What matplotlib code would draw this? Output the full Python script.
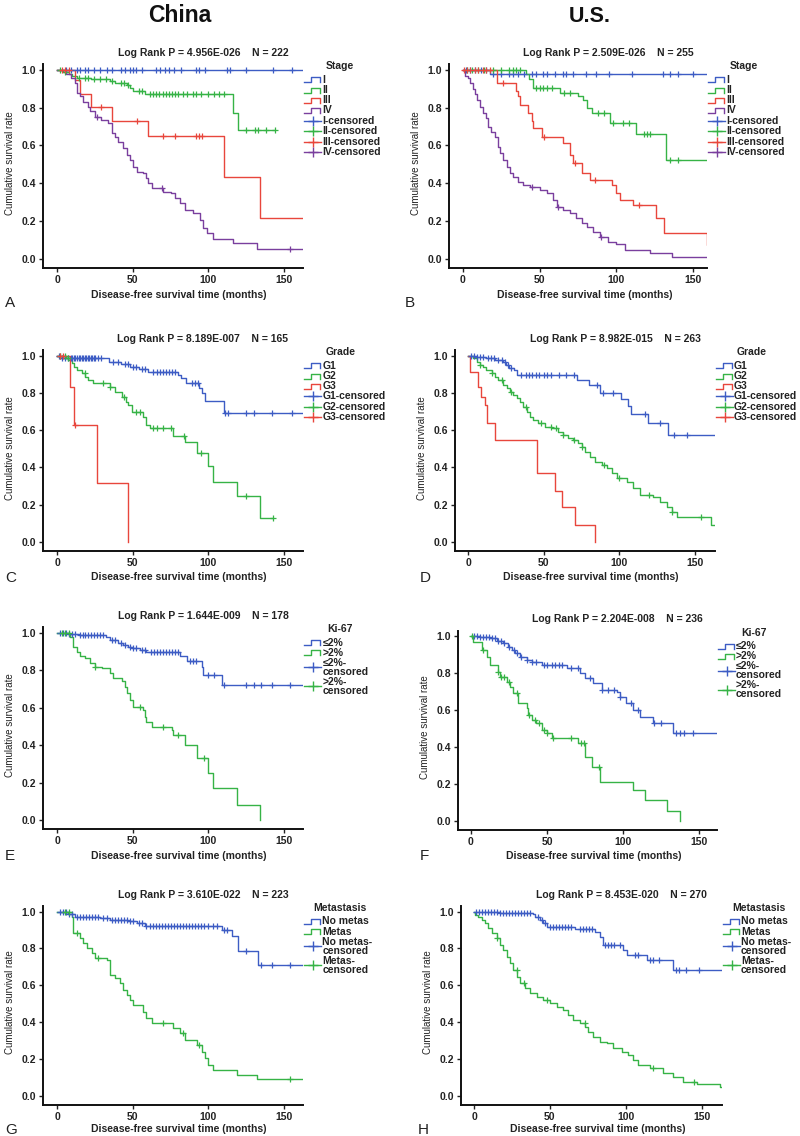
import matplotlib
matplotlib.use("Agg")
import matplotlib.pyplot as plt
from matplotlib.lines import Line2D
import numpy as np

plt.rcParams['font.family'] = ['Liberation Sans', 'DejaVu Sans']

W, H = 800, 1136
BLUE, GREEN, RED, PURPLE = '#3d5cc4', '#36b346', '#e8463c', '#7a3f9e'

# ---------------- data (time in months, survival, censor times) ----------------
A_I_t = [0]; A_I_s = [1.0]; A_I_end = 163
A_I_c = [6,9,13,15,18,20,24,28,33,36,42,45,48,50,52,56,65,68,71,74,77,82,92,94,98,112,114,125,143,155]
A_II_t = [0,4,8,10,13,22,35,38,46,48,50,58,116,119.5]
A_II_s = [1.0,0.99,0.98,0.97,0.96,0.95,0.94,0.93,0.92,0.905,0.89,0.87,0.77,0.68]
A_II_end = 144
A_II_c = [2,5,14,18,20,24,28,32,36,42,44,47,54,56,61,63,65,67,70,72,74,76,78,80,83,86,90,92,95,100,104,107,110,125,131,133,138,144]
A_III_t = [0,11.5,15,22,36,60,110,134]
A_III_s = [1.0,0.945,0.87,0.805,0.73,0.65,0.435,0.215]
A_III_end = 163
A_III_c = [3,5,8,29,53,70,78,92,94,96]
A_IV_t = [0,6,9,11.5,12.8,15,17,20,21.6,25,29,33.8,36,38,40,43.7,46,48,50,52.5,57,59,60,62.4,70,75,78,81,84.5,90,94.4,96.6,98.8,103,116,132]
A_IV_s = [1.0,0.98,0.955,0.93,0.876,0.86,0.83,0.805,0.78,0.753,0.735,0.717,0.664,0.647,0.62,0.585,0.55,0.523,0.488,0.461,0.452,0.426,0.40,0.373,0.355,0.346,0.32,0.293,0.258,0.24,0.205,0.161,0.134,0.102,0.081,0.053]
A_IV_end = 163
A_IV_c = [26,69,154]

B_I_t = [0,18]; B_I_s = [1.0,0.98]; B_I_end = 160
B_I_c = [2,5,8,12,15,20,25,30,33,36,40,45,48,52,55,60,65,67,72,80,87,95,110,130,135,140,150]
B_II_t = [0,41,43,46,63,75,78,81,84,96,113,132]
B_II_s = [1.0,0.98,0.95,0.905,0.88,0.86,0.84,0.80,0.77,0.72,0.66,0.525]
B_II_end = 160
B_II_c = [3,6,10,14,20,25,30,33,35,37,48,50,52,55,58,66,70,88,92,98,104,108,118,120,122,135,140]
B_III_t = [0,22,35,36.2,37.3,42.7,45,46,51.4,65.5,69.8,72,77.4,82.8,97,100,102,111,126,131,159]
B_III_s = [1.0,0.93,0.89,0.86,0.815,0.77,0.727,0.69,0.647,0.611,0.55,0.505,0.452,0.417,0.39,0.346,0.31,0.284,0.214,0.137,0.072]
B_III_end = 160
B_III_c = [1,3,5,8,10,13,15,18,26,53,73,86,115]
B_IV_t = [0,1.5,3.7,4.8,7,8,9.5,11.3,13.4,15.2,16.7,18.2,21,23.2,24.3,26.4,28.6,30.8,33,36.2,39.5,43.8,50.3,54.6,59,61.1,65.5,69.8,74,77.4,80.6,85,89.3,94.7,100,105.6,121.8,136]
B_IV_s = [1.0,0.97,0.956,0.929,0.90,0.87,0.84,0.806,0.77,0.744,0.70,0.673,0.647,0.594,0.558,0.523,0.488,0.452,0.435,0.408,0.39,0.382,0.364,0.346,0.31,0.276,0.258,0.24,0.214,0.19,0.17,0.143,0.117,0.09,0.08,0.046,0.028,0.011]
B_IV_end = 160
B_IV_c = [45,62,90]

C_G1_t = [0,2,34,42,48,54,60,80,82,85,94,96,98,110]
C_G1_s = [1.0,0.99,0.97,0.955,0.94,0.93,0.915,0.895,0.88,0.855,0.825,0.80,0.76,0.695]
C_G1_end = 163
C_G1_c = [1,3,5,7,9,10,11,12,13,14,15,16,17,18,19,20,21,22,23,24,25,27,29,37,40,45,47,50,52,56,58,63,66,68,70,72,74,76,78,89,91,93,111,113,125,130,142,155]
C_G2_t = [0,6,7.3,9.5,11,13.2,16,18.3,20.5,23.8,34.9,38.2,42.6,45.4,47,49.2,57,59,61.3,76.8,84.5,92.2,100,103,118.7,134]
C_G2_s = [1.0,0.99,0.978,0.96,0.943,0.925,0.907,0.888,0.87,0.856,0.835,0.808,0.78,0.754,0.736,0.70,0.67,0.63,0.61,0.57,0.536,0.48,0.41,0.32,0.245,0.125]
C_G2_end = 143
C_G2_c = [2,5,7,18,30,35,44,52,55,63,66,70,75,84,95,125,143]
C_G3_t = [0,8.4,11,26,47]
C_G3_s = [1.0,0.835,0.628,0.314,0.0]
C_G3_end = 47
C_G3_c = [2,4,12]

D_G1_t = [0,5,12,18,23,25,27,30,32,72,80,87,101,106,108,119,132]
D_G1_s = [1.0,0.993,0.987,0.978,0.969,0.952,0.934,0.925,0.895,0.87,0.845,0.80,0.77,0.73,0.69,0.64,0.575]
D_G1_end = 163
D_G1_c = [2,4,6,8,10,13,15,17,20,22,24,26,28,35,38,40,42,45,47,50,52,55,60,65,70,85,89,96,117,127,136,145]
D_G2_t = [0,3.3,5.5,7.7,10,12,15.5,17.7,19.9,23.2,25.4,27.6,29.8,32,34.2,36.4,38.6,40.8,43,46.4,50.8,55.2,59.6,62.9,66.2,69.5,72.8,75,77.3,80.6,83.9,88.3,91.6,94.9,98.2,104.9,109.3,113.7,122.5,127,131.3,134.7,138,161]
D_G2_s = [1.0,0.987,0.969,0.952,0.943,0.925,0.907,0.889,0.871,0.844,0.826,0.808,0.79,0.772,0.754,0.727,0.70,0.673,0.655,0.637,0.619,0.61,0.592,0.575,0.557,0.548,0.53,0.512,0.485,0.458,0.431,0.413,0.395,0.368,0.341,0.323,0.287,0.251,0.242,0.215,0.189,0.162,0.135,0.09]
D_G2_end = 163
D_G2_c = [8,16,22,28,38,48,55,58,63,70,75,90,100,120,135,154]
D_G3_t = [0,1,6.5,8.5,11,12.5,18,45.5,57.5,62,71,84]
D_G3_s = [1.0,0.916,0.835,0.78,0.735,0.64,0.55,0.37,0.275,0.185,0.09,0.0]
D_G3_end = 84
D_G3_c = []

E_lo_t = [0,7,14,32,35,40,43.7,47,49.2,54.7,59,81,85.6,95.5,96.6,108.8]
E_lo_s = [1.0,0.993,0.988,0.979,0.961,0.947,0.934,0.925,0.916,0.907,0.899,0.875,0.85,0.818,0.774,0.72]
E_lo_end = 163
E_lo_c = [2,4,6,8,10,12,15,17,18,20,22,24,26,28,30,36,38,42,45,48,50,52,56,58,62,64,66,68,70,72,74,76,78,80,88,90,92,100,104,110,125,130,135,142,154]
E_hi_t = [0,8.4,10.6,12.8,15,18.3,21.6,25,29.3,34.9,37,42.6,44.8,46,48,50.3,57,58,59,62.4,75.7,76.8,84.5,92.2,100,103,118.7,134]
E_hi_s = [1.0,0.979,0.925,0.899,0.875,0.863,0.836,0.819,0.81,0.783,0.756,0.744,0.712,0.676,0.64,0.605,0.587,0.552,0.525,0.498,0.48,0.454,0.40,0.329,0.249,0.169,0.08,0.0]
E_hi_end = 134
E_hi_c = [3,5,8,25,55,70,80,97]

F_lo_t = [0,5.9,12.5,16.9,21.2,24.5,26.7,28.9,32.2,36.6,40,46.4,62.8,71.6,74.9,80.4,85.8,95.7,97.9,102,106.6,111,119.8,133]
F_lo_s = [1.0,0.993,0.987,0.975,0.96,0.942,0.924,0.906,0.888,0.87,0.861,0.843,0.825,0.798,0.771,0.744,0.708,0.699,0.672,0.636,0.60,0.563,0.527,0.477]
F_lo_end = 163
F_lo_c = [2,4,6,8,10,12,14,16,18,20,22,25,28,30,33,37,40,43,48,50,53,55,58,60,66,70,78,86,90,94,98,105,110,120,125,135,137,140,146]
F_hi_t = [0,1.1,7,10.3,12.5,18,19,23.4,25.6,27.8,31,36.6,37.6,40,43,46.4,49.7,53,70.5,74.9,79.3,84.7,106.6,114,128.5,137.3]
F_hi_s = [1.0,0.969,0.924,0.888,0.843,0.807,0.78,0.753,0.726,0.69,0.636,0.609,0.572,0.545,0.527,0.491,0.473,0.446,0.419,0.347,0.292,0.211,0.166,0.112,0.054,0.0]
F_hi_end = 137.3
F_hi_c = [1,8,18,20,22,25,30,38,42,45,48,50,54,66,72,74,84]

G_no_t = [0,7.3,11.7,28.2,34.9,47,52.5,58,108.8,115.4,119.8,133]
G_no_s = [1.0,0.987,0.973,0.964,0.955,0.946,0.937,0.924,0.90,0.868,0.788,0.71]
G_no_end = 163
G_no_c = [2,4,6,8,10,13,15,17,19,21,23,25,27,30,33,36,38,40,42,44,46,48,50,54,56,59,61,63,65,67,69,71,73,75,77,79,81,83,85,87,89,91,93,95,97,100,103,106,110,112,125,135,142,154]
G_met_t = [0,9.5,10.6,15,17.2,19.9,22.7,25,32.6,34.9,38,41.5,43.7,46,48,50.3,57,59,62.4,76.8,81.2,84.5,92.2,95.5,97.7,100,103,118.7,132]
G_met_s = [1.0,0.973,0.882,0.855,0.828,0.80,0.774,0.75,0.737,0.656,0.638,0.61,0.574,0.547,0.52,0.493,0.457,0.42,0.393,0.366,0.339,0.303,0.276,0.24,0.203,0.167,0.14,0.112,0.089]
G_met_end = 163
G_met_c = [5,8,13,27,70,83,94,154]

H_no_t = [0,17,39,40.2,43.5,45.7,47.9,66.5,79.7,83,85.2,98.4,100.6,113.8,131.3]
H_no_s = [1.0,0.991,0.987,0.973,0.955,0.937,0.918,0.906,0.891,0.864,0.819,0.792,0.764,0.737,0.683]
H_no_end = 163
H_no_c = [1,3,5,7,9,11,13,15,17,19,21,23,25,27,29,31,33,35,37,42,45,47,50,52,54,56,58,60,62,64,70,72,74,76,78,86,88,90,92,96,106,108,116,118,122,133,135,140,148]
H_met_t = [0,0.7,2.9,5,7.2,9.4,11.6,14.9,17.1,19.3,21.5,23.7,25.9,28.1,30.3,33.6,36.9,41.3,45.7,50.1,54.5,58.9,62.2,65.5,69.8,73.1,75.3,78.6,83,87.4,91.8,97.3,101.7,105,108.3,116,124.8,131.3,138,146.7,162]
H_met_s = [1.0,0.982,0.969,0.955,0.937,0.909,0.882,0.855,0.819,0.792,0.755,0.719,0.683,0.647,0.611,0.583,0.556,0.538,0.52,0.502,0.484,0.466,0.439,0.411,0.393,0.375,0.348,0.321,0.293,0.284,0.257,0.239,0.221,0.194,0.167,0.149,0.121,0.103,0.076,0.063,0.05]
H_met_end = 163
H_met_c = [15,28,33,48,73,118,145]

PVALS = ["4.956E-026", "2.509E-026", "8.189E-007", "8.982E-015",
         "1.644E-009", "2.204E-008", "3.610E-022", "8.453E-020"]
NS = [222, 255, 165, 263, 178, 236, 223, 270]
LETTERS = list("ABCDEFGH")
LEG_TITLES = ["Stage", "Stage", "Grade", "Grade", "Ki-67", "Ki-67", "Metastasis", "Metastasis"]
STAGE_LAB = ["I", "II", "III", "IV"]
GRADE_LAB = ["G1", "G2", "G3"]
KI_LAB = ["\u22642%", ">2%"]
MET_LAB = ["No metas", "Metas"]

# ---------------- layout (pixels) ----------------
RECTS = [
    (42.7, 303.3, 64.3, 268.1, -9.7, 162.8),
    (449.3, 707.3, 64.3, 268.1, -8.7, 159.1),
    (42.7, 303.3, 350.4, 551.0, -9.7, 162.8),
    (455.0, 715.0, 350.4, 551.0, -8.8, 163.4),
    (43.0, 303.3, 627.0, 829.4, -9.5, 162.8),
    (458.0, 717.0, 630.5, 830.0, -8.5, 161.6),
    (43.0, 303.3, 906.0, 1105.0, -9.5, 162.8),
    (461.0, 722.0, 906.0, 1105.0, -8.6, 163.4),
]
XLAB_Y = [295, 295, 577, 577, 856, 856, 1129.5, 1129.5]
LET_POS = [(5, 303), (405, 303), (5, 578), (420, 578), (5, 856.5), (420, 856.5), (5, 1129.5), (418, 1129.5)]
YLIM = (-0.05, 1.03)

fig = plt.figure(figsize=(W / 100, H / 100), dpi=100)

def fx(x):
    return x / W

def fy(y):
    return 1 - y / H

def surv_at(t, s, tc):
    idx = np.searchsorted(np.asarray(t), tc, side='right') - 1
    return np.asarray(s)[np.clip(idx, 0, len(s) - 1)]

def draw_curve(ax, t, s, end, c, color):
    x = list(t) + [end]
    y = list(s) + [s[-1]]
    ax.step(x, y, where='post', color=color, lw=1.0, zorder=3)
    if len(c):
        ax.plot(c, surv_at(t, s, np.asarray(c, float)), ls='none', marker='+',
                ms=4.5, mew=0.9, color=color, zorder=4)

panels = [
    [(A_I_t, A_I_s, A_I_end, A_I_c, BLUE), (A_II_t, A_II_s, A_II_end, A_II_c, GREEN),
     (A_III_t, A_III_s, A_III_end, A_III_c, RED), (A_IV_t, A_IV_s, A_IV_end, A_IV_c, PURPLE)],
    [(B_I_t, B_I_s, B_I_end, B_I_c, BLUE), (B_II_t, B_II_s, B_II_end, B_II_c, GREEN),
     (B_III_t, B_III_s, B_III_end, B_III_c, RED), (B_IV_t, B_IV_s, B_IV_end, B_IV_c, PURPLE)],
    [(C_G1_t, C_G1_s, C_G1_end, C_G1_c, BLUE), (C_G2_t, C_G2_s, C_G2_end, C_G2_c, GREEN),
     (C_G3_t, C_G3_s, C_G3_end, C_G3_c, RED)],
    [(D_G1_t, D_G1_s, D_G1_end, D_G1_c, BLUE), (D_G2_t, D_G2_s, D_G2_end, D_G2_c, GREEN),
     (D_G3_t, D_G3_s, D_G3_end, D_G3_c, RED)],
    [(E_lo_t, E_lo_s, E_lo_end, E_lo_c, BLUE), (E_hi_t, E_hi_s, E_hi_end, E_hi_c, GREEN)],
    [(F_lo_t, F_lo_s, F_lo_end, F_lo_c, BLUE), (F_hi_t, F_hi_s, F_hi_end, F_hi_c, GREEN)],
    [(G_no_t, G_no_s, G_no_end, G_no_c, BLUE), (G_met_t, G_met_s, G_met_end, G_met_c, GREEN)],
    [(H_no_t, H_no_s, H_no_end, H_no_c, BLUE), (H_met_t, H_met_s, H_met_end, H_met_c, GREEN)],
]
labels_per = [STAGE_LAB, STAGE_LAB, GRADE_LAB, GRADE_LAB, KI_LAB, KI_LAB, MET_LAB, MET_LAB]
colors_per = [[BLUE, GREEN, RED, PURPLE]] * 2 + [[BLUE, GREEN, RED]] * 2 + [[BLUE, GREEN]] * 4

TXT = '#222222'

def step_icon(x0, x1, y):
    w = x1 - x0
    xs = [x0, x0 + 0.4 * w, x0 + 0.4 * w, x1 - 0.05 * w, x1 - 0.05 * w]
    ys = [y + 2.5, y + 2.5, y - 2.5, y - 2.5, y + 2.5]
    return [fx(v) for v in xs], [fy(v) for v in ys]

for i, (rect, curves) in enumerate(zip(RECTS, panels)):
    l, r, t, b, xl0, xl1 = rect
    ax = fig.add_axes([fx(l), fy(b), (r - l) / W, (b - t) / H])
    for (tt, ss, ee, cc, col) in curves:
        draw_curve(ax, tt, ss, ee, cc, col)
    ax.set_xlim(xl0, xl1)
    ax.set_ylim(*YLIM)
    ax.set_xticks([0, 50, 100, 150])
    ax.set_yticks([0.0, 0.2, 0.4, 0.6, 0.8, 1.0])
    ax.set_yticklabels(["0.0", "0.2", "0.4", "0.6", "0.8", "1.0"])
    for sp in ['top', 'right']:
        ax.spines[sp].set_visible(False)
    for sp in ['left', 'bottom']:
        ax.spines[sp].set_linewidth(1.4)
        ax.spines[sp].set_color('#111111')
    ax.tick_params(length=3, width=1, labelsize=7.5, colors=TXT, pad=2)
    for lab in ax.get_xticklabels() + ax.get_yticklabels():
        lab.set_fontweight('bold')
    ax.patch.set_alpha(0)

    cx = (l + r) / 2
    fig.text(fx(cx + 30), fy(t - 11), f"Log Rank P = {PVALS[i]}    N = {NS[i]}",
             ha='center', va='center', fontsize=7.5, fontweight='bold', color=TXT)
    fig.text(fx(cx + 6), fy(XLAB_Y[i]), "Disease-free survival time (months)",
             ha='center', va='center', fontsize=7.5, fontweight='bold', color=TXT)
    ylx = 10 if i % 2 == 0 else l - 33
    fig.text(fx(ylx), fy((t + b) / 2 - 3), "Cumulative survival rate", rotation=90,
             ha='center', va='center', fontsize=7, color=TXT)
    lx, ly = LET_POS[i]
    fig.text(fx(lx), fy(ly), LETTERS[i], ha='left', va='center',
             fontsize=11, color=TXT)

    # legend
    ix0 = r + 1
    ix1 = r + 18
    tx = r + 19
    fig.text(fx(tx + 18), fy(t + 2), LEG_TITLES[i], ha='center', va='center',
             fontsize=7.5, fontweight='bold', color=TXT)
    labs = labels_per[i]
    cols = colors_per[i]
    y = t + 15.5
    for lab, col in zip(labs, cols):
        xs, ys = step_icon(ix0, ix1, y)
        fig.add_artist(Line2D(xs, ys, color=col, lw=1.0, transform=fig.transFigure))
        fig.text(fx(tx), fy(y), lab, ha='left', va='center', fontsize=7.5,
                 fontweight='bold', color=TXT)
        y += 10.2
    two_line = i >= 4
    for lab, col in zip(labs, cols):
        if two_line:
            yc = y + 4.5
            fig.text(fx(tx), fy(yc - 4.5), lab + "-", ha='left', va='center', fontsize=7.5,
                     fontweight='bold', color=TXT)
            fig.text(fx(tx), fy(yc + 4.5), "censored", ha='left', va='center', fontsize=7.5,
                     fontweight='bold', color=TXT)
            fig.add_artist(Line2D([fx(ix0), fx(ix1)], [fy(yc), fy(yc)], color=col, lw=1.0,
                                  transform=fig.transFigure))
            fig.add_artist(Line2D([fx((ix0 + ix1) / 2)], [fy(yc)], color=col, marker='+',
                                  ms=7, mew=1.0, transform=fig.transFigure))
            y += 19
        else:
            fig.add_artist(Line2D([fx(ix0), fx(ix1)], [fy(y), fy(y)], color=col, lw=1.0,
                                  transform=fig.transFigure))
            fig.add_artist(Line2D([fx((ix0 + ix1) / 2)], [fy(y)], color=col, marker='+',
                                  ms=7, mew=1.0, transform=fig.transFigure))
            fig.text(fx(tx), fy(y), lab + "-censored", ha='left', va='center', fontsize=7.5,
                     fontweight='bold', color=TXT)
            y += 10.5

fig.text(fx(180), fy(15), "China", ha='center', va='center', fontsize=16.5,
         fontweight='bold', color='#111111')
fig.text(fx(590), fy(16), "U.S.", ha='center', va='center', fontsize=15.5,
         fontweight='bold', color='#111111')

fig.savefig("out.png", dpi=100, facecolor='white')
